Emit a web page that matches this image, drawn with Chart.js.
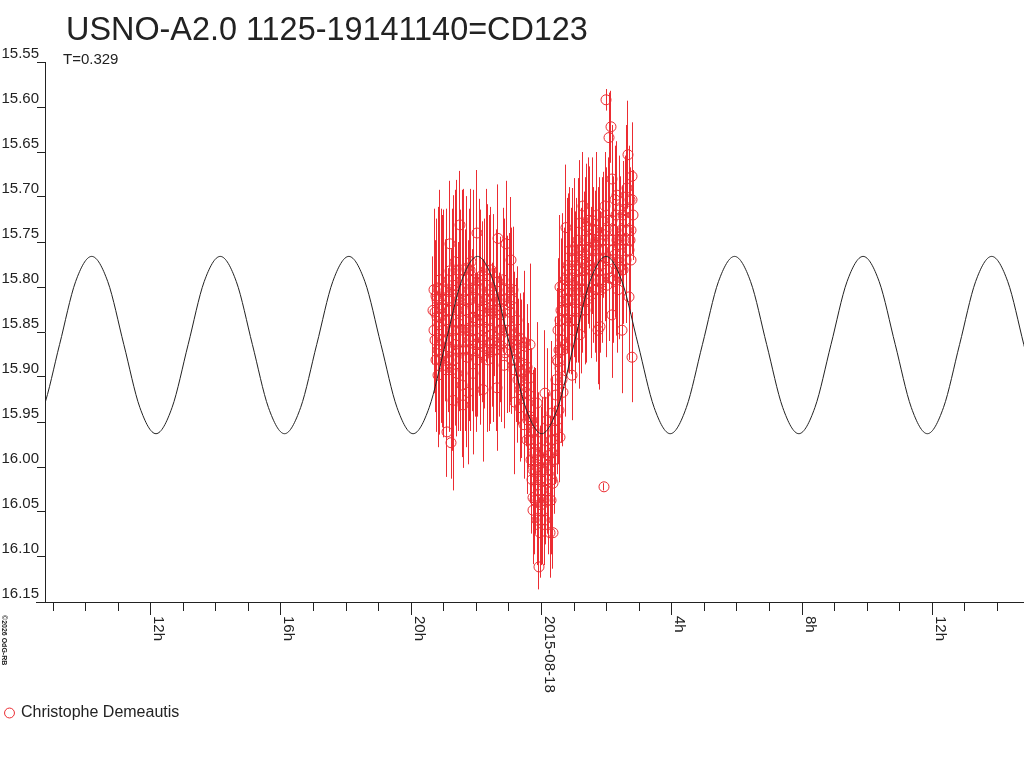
<!DOCTYPE html>
<html>
<head>
<meta charset="utf-8">
<title>USNO-A2.0 1125-19141140=CD123</title>
<script src="https://cdn.jsdelivr.net/npm/chart.js@4.4.1/dist/chart.umd.min.js"></script>
<style>
  html, body { margin: 0; padding: 0; background: #fff; }
  #wrap { width: 1024px; height: 768px; }
</style>
</head>
<body>
<div id="wrap"><canvas id="lightCurve" width="1024" height="768"></canvas></div>
<script>
var xMin = -15.246, xMax = 14.816;
var magTop = 15.55, magBottom = 16.15;

var titleText = 'USNO-A2.0 1125-19141140=CD123';
var periodText = 'T=0.329';
var observer = 'Christophe Demeautis';

var hourTicks = [-12, -8, -4, 0, 4, 8, 12];
var hourLabels = ['12h', '16h', '20h', '2015-08-18', '4h', '8h', '12h'];

// fitted curve (black)
var curveTime = [-15.786, -15.293, -14.799, -14.306, -13.812, -13.319, -12.825, -12.332,
  -11.838, -11.345, -10.851, -10.358, -9.864, -9.371, -8.877, -8.384,
  -7.890, -7.397, -6.903, -6.410, -5.916, -5.423, -4.929, -4.436,
  -3.942, -3.449, -2.955, -2.462, -1.968, -1.475, -0.981, -0.488,
  0.006, 0.499, 0.993, 1.486, 1.980, 2.473, 2.967, 3.460,
  3.954, 4.447, 4.941, 5.434, 5.928, 6.421, 6.915, 7.408,
  7.902, 8.395, 8.889, 9.382, 9.876, 10.369, 10.863, 11.356,
  11.850, 12.343, 12.837, 13.330, 13.824, 14.317, 14.811, 15.304, 15.798];
var curveMag = [15.963, 15.934, 15.864, 15.794, 15.766, 15.794, 15.864, 15.934,
  15.963, 15.934, 15.864, 15.794, 15.766, 15.794, 15.864, 15.934,
  15.963, 15.934, 15.864, 15.794, 15.766, 15.794, 15.864, 15.934,
  15.963, 15.934, 15.864, 15.794, 15.766, 15.794, 15.864, 15.934,
  15.963, 15.934, 15.864, 15.794, 15.766, 15.794, 15.864, 15.934,
  15.963, 15.934, 15.864, 15.794, 15.766, 15.794, 15.864, 15.934,
  15.963, 15.934, 15.864, 15.794, 15.766, 15.794, 15.864, 15.934,
  15.963, 15.934, 15.864, 15.794, 15.766, 15.794, 15.864, 15.934, 15.963];

// observations (red)
var obsTime = [-3.332, -3.270, -3.209, -3.178, -3.178, -3.147, -3.117, -3.086, -3.025, -2.902,
  -2.810, -2.810, -2.810, -2.779, -2.748, -2.717, -2.656, -2.595, -2.564, -2.533,
  -2.503, -2.441, -2.410, -2.349, -2.288, -2.288, -2.257, -2.195, -2.134, -2.103,
  -2.103, -2.103, -2.042, -1.981, -1.919, -1.888, -1.827, -1.796, -1.735, -1.704,
  -1.643, -1.581, -1.551, -1.489, -1.428, -1.397, -1.366, -1.336, -1.336, -1.274,
  -1.213, -1.151, -1.121, -1.090, -1.029, -0.967, -0.937, -0.906, -0.844, -0.814,
  -0.752, -0.722, -0.660, -0.660, -0.599, -0.537, -0.507, -0.445, -0.445, -0.384,
  -0.353, -0.353, -0.353, -0.322, -0.292, -0.292, -0.261, -0.261, -0.261, -0.261,
  -0.200, -0.200, -0.169, -0.138, -0.138, -0.138, -0.107, -0.077, -0.046, -0.015,
  0.015, 0.046, 0.077, 0.107, 0.138, 0.169, 0.200, 0.261, 0.292, 0.322,
  0.322, 0.353, 0.353, 0.415, 0.445, 0.507, 0.537, 0.568, 0.568, 0.568,
  0.629, 0.660, 0.660, 0.691, 0.722, 0.752, 0.783, 0.814, 0.875, 0.906,
  0.937, 0.967, 0.998, 1.059, 1.090, 1.121, 1.182, 1.182, 1.213, 1.274,
  1.305, 1.336, 1.397, 1.428, 1.489, 1.520, 1.551, 1.612, 1.643, 1.704,
  1.704, 1.735, 1.796, 1.827, 1.858, 1.919, 1.950, 1.950, 1.981, 2.011,
  2.073, 2.103, 2.134, 2.165, 2.165, 2.226, 2.257, 2.318, 2.318, 2.380,
  2.410, 2.472, 2.503, 2.533, 2.564, 2.625, 2.656, 2.687, 2.717, 2.748,
  2.779, 2.779, 2.810,
  -3.301, -3.239, -3.178, -3.117, -3.055, -2.994, -2.932, -2.871, -2.840, -2.687,
  -2.625, -2.472, -2.380, -2.318, -2.226, -2.165, -2.073, -2.011, -1.950, -1.858,
  -1.766, -1.673, -1.612, -1.520, -1.459, -1.305, -1.244, -1.182, -1.059, -0.998,
  -0.875, -0.783, -0.691, -0.629, -0.568, -0.476, -0.415,
  -0.230, -0.169, -0.077, -0.015, 0.077, 0.169, 0.230, 0.292, 0.384,
  0.476, 0.537, 0.599, 0.629, 0.752, 0.844, 0.937, 1.029, 1.090, 1.151,
  1.244, 1.366, 1.459, 1.581, 1.673, 1.766, 1.888, 2.042, 2.195, 2.288,
  2.349, 2.441, 2.595, 2.717,
  -3.270, -3.209, -3.147, -3.086, -3.025, -2.963, -2.902, -2.840, -2.779, -2.717,
  -2.656, -2.595, -2.503, -2.441, -2.349, -2.257, -2.195, -2.103, -2.011, -1.919,
  -1.827, -1.735, -1.643, -1.581, -1.489, -1.397, -1.274, -1.151, -1.029, -0.937,
  -0.844, -0.752, -0.599, -0.507,
  -0.353, -0.261, -0.107, 0.015, 0.138, 0.261, 0.353,
  0.445, 0.507, 0.599, 0.691, 0.783, 0.875, 0.967, 1.059, 1.151, 1.213,
  1.305, 1.397, 1.489, 1.551, 1.643, 1.735, 1.827, 1.919, 2.011, 2.103,
  2.226, 2.318, 2.410, 2.503, 2.625, 2.748,
  -3.301, -3.239, -3.117, -3.055, -2.994, -2.932, -2.810, -2.748, -2.687, -2.625,
  -2.564, -2.472, -2.410, -2.318, -2.226, -2.165, -2.073, -1.981, -1.888, -1.796,
  -1.704, -1.612, -1.551, -1.459, -1.366, -1.213, -1.121, -0.998, -0.906, -0.814,
  -0.722, -0.660,
  -0.322, -0.200, -0.138, -0.046, 0.046, 0.107, 0.200, 0.322,
  0.476, 0.568, 0.660, 0.722, 0.814, 0.906, 0.998, 1.121, 1.182, 1.274,
  1.336, 1.428, 1.520, 1.612, 1.704, 1.796, 1.888, 1.981, 2.073, 2.165,
  2.257, 2.380, 2.472, 2.564, 2.687, 2.779];
var obsMag = [15.826, 15.828, 15.833, 15.801, 15.898, 15.814, 15.864, 15.881, 15.848, 15.961,
  15.752, 15.782, 15.867, 15.973, 15.892, 15.926, 15.772, 15.896, 15.840, 15.814,
  15.731, 15.909, 15.931, 15.870, 15.779, 15.878, 15.917, 15.814, 15.848, 15.801,
  15.823, 15.896, 15.864, 15.740, 15.831, 15.873, 15.787, 15.914, 15.845, 15.814,
  15.881, 15.862, 15.781, 15.826, 15.839, 15.870, 15.912, 15.746, 15.794, 15.814,
  15.848, 15.887, 15.873, 15.752, 15.803, 15.828, 15.770, 15.881, 15.853, 15.928,
  15.837, 15.903, 15.857, 15.934, 15.920, 15.953, 15.862, 15.889, 15.970, 15.920,
  15.864, 15.901, 15.944, 15.992, 15.948, 16.014, 15.962, 15.984, 16.034, 16.048,
  15.984, 16.037, 15.970, 15.929, 15.992, 16.000, 16.020, 16.111, 16.073, 16.042,
  16.003, 16.048, 15.981, 15.918, 16.026, 15.948, 15.998, 16.073, 15.970, 15.940,
  15.984, 16.018, 16.073, 15.959, 15.920, 15.883, 15.937, 15.800, 15.890, 15.967,
  15.859, 15.798, 15.917, 15.826, 15.864, 15.734, 15.814, 15.776, 15.759, 15.837,
  15.898, 15.848, 15.798, 15.776, 15.814, 15.748, 15.729, 15.853, 15.792, 15.710,
  15.764, 15.826, 15.733, 15.781, 15.746, 15.809, 15.770, 15.792, 15.753, 15.720,
  15.803, 15.848, 15.844, 15.776, 15.748, 16.022, 15.710, 15.768, 15.592, 15.798,
  15.634, 15.790, 15.622, 15.680, 15.831, 15.737, 15.764, 15.698, 15.784, 15.753,
  15.778, 15.848, 15.720, 15.748, 15.714, 15.690, 15.653, 15.811, 15.703, 15.737,
  15.677, 15.878, 15.720,
  15.848, 15.810, 15.870, 15.834, 15.820, 15.887, 15.803, 15.859, 15.826, 15.848,
  15.809, 15.870, 15.837, 15.814, 15.859, 15.772, 15.834, 15.803, 15.864, 15.826,
  15.876, 15.798, 15.820, 15.853, 15.809, 15.864, 15.831, 15.792, 15.848, 15.820,
  15.803, 15.870, 15.883, 15.894, 15.876, 15.917, 15.948,
  15.959, 16.014, 15.987, 16.059, 16.037, 16.014, 15.987, 16.037, 15.992,
  15.948, 15.870, 15.826, 15.903, 15.837, 15.803, 15.814, 15.837, 15.781, 15.814,
  15.759, 15.803, 15.759, 15.737, 15.781, 15.748, 15.792, 15.726, 15.759, 15.720,
  15.803, 15.737, 15.770, 15.748,
  15.859, 15.814, 15.842, 15.803, 15.876, 15.837, 15.814, 15.881, 15.848, 15.798,
  15.864, 15.826, 15.848, 15.792, 15.826, 15.848, 15.781, 15.859, 15.837, 15.792,
  15.848, 15.814, 15.837, 15.803, 15.870, 15.826, 15.848, 15.814, 15.870, 15.848,
  15.892, 15.864, 15.903, 15.892,
  15.970, 16.003, 16.037, 16.026, 15.992, 16.003, 15.970,
  15.903, 15.848, 15.870, 15.814, 15.781, 15.826, 15.770, 15.803, 15.759, 15.826,
  15.781, 15.814, 15.776, 15.726, 15.803, 15.759, 15.803, 15.742, 15.781, 15.748,
  15.792, 15.748, 15.714, 15.781, 15.737, 15.770,
  15.803, 15.881, 15.792, 15.859, 15.814, 15.892, 15.826, 15.803, 15.881, 15.781,
  15.870, 15.814, 15.781, 15.848, 15.803, 15.870, 15.792, 15.881, 15.814, 15.859,
  15.781, 15.870, 15.826, 15.859, 15.814, 15.870, 15.826, 15.859, 15.814, 15.881,
  15.859, 15.914,
  15.948, 16.003, 16.059, 16.014, 15.992, 16.059, 16.037, 16.014,
  15.881, 15.837, 15.870, 15.792, 15.814, 15.792, 15.759, 15.792, 15.770, 15.803,
  15.748, 15.726, 15.781, 15.759, 15.737, 15.792, 15.759, 15.737, 15.770, 15.726,
  15.703, 15.770, 15.748, 15.726, 15.759, 15.703];
var obsErr = [0.060, 0.080, 0.070, 0.090, 0.080, 0.060, 0.100, 0.070, 0.080, 0.050,
  0.070, 0.090, 0.080, 0.040, 0.090, 0.100, 0.080, 0.070, 0.090, 0.100,
  0.060, 0.080, 0.070, 0.090, 0.080, 0.100, 0.080, 0.070, 0.090, 0.080,
  0.100, 0.090, 0.080, 0.070, 0.090, 0.080, 0.060, 0.080, 0.090, 0.070,
  0.080, 0.090, 0.070, 0.080, 0.060, 0.090, 0.070, 0.060, 0.080, 0.070,
  0.060, 0.070, 0.080, 0.070, 0.060, 0.080, 0.070, 0.060, 0.070, 0.080,
  0.060, 0.070, 0.050, 0.060, 0.070, 0.060, 0.080, 0.070, 0.060, 0.080,
  0.090, 0.070, 0.060, 0.070, 0.080, 0.060, 0.070, 0.080, 0.050, 0.060,
  0.070, 0.060, 0.080, 0.090, 0.070, 0.060, 0.070, 0.025, 0.050, 0.060,
  0.070, 0.060, 0.080, 0.070, 0.060, 0.080, 0.070, 0.050, 0.070, 0.080,
  0.060, 0.050, 0.040, 0.060, 0.070, 0.080, 0.060, 0.080, 0.070, 0.050,
  0.070, 0.080, 0.060, 0.070, 0.080, 0.070, 0.060, 0.080, 0.070, 0.060,
  0.050, 0.070, 0.080, 0.060, 0.070, 0.060, 0.070, 0.060, 0.080, 0.060,
  0.070, 0.060, 0.070, 0.060, 0.080, 0.070, 0.060, 0.070, 0.060, 0.070,
  0.080, 0.060, 0.070, 0.060, 0.070, 0.004, 0.060, 0.070, 0.012, 0.080,
  0.050, 0.070, 0.040, 0.060, 0.070, 0.060, 0.070, 0.060, 0.070, 0.060,
  0.080, 0.070, 0.060, 0.070, 0.060, 0.070, 0.060, 0.070, 0.060, 0.070,
  0.060, 0.050, 0.050,
  0.070, 0.080, 0.090, 0.070, 0.100, 0.080, 0.090, 0.080, 0.100, 0.090,
  0.080, 0.090, 0.100, 0.080, 0.090, 0.080, 0.100, 0.090, 0.080, 0.090,
  0.080, 0.090, 0.100, 0.080, 0.090, 0.080, 0.070, 0.080, 0.070, 0.080,
  0.070, 0.080, 0.070, 0.080, 0.070, 0.060, 0.070,
  0.070, 0.060, 0.070, 0.050, 0.060, 0.060, 0.070, 0.060, 0.060,
  0.060, 0.080, 0.080, 0.070, 0.070, 0.080, 0.070, 0.070, 0.080, 0.070,
  0.070, 0.070, 0.080, 0.070, 0.070, 0.070, 0.070, 0.070, 0.070, 0.060,
  0.070, 0.060, 0.070, 0.060,
  0.080, 0.090, 0.080, 0.090, 0.080, 0.090, 0.100, 0.080, 0.090, 0.100,
  0.090, 0.100, 0.090, 0.100, 0.090, 0.100, 0.090, 0.080, 0.100, 0.090,
  0.080, 0.090, 0.100, 0.090, 0.080, 0.090, 0.080, 0.090, 0.070, 0.080,
  0.070, 0.080, 0.070, 0.080,
  0.070, 0.060, 0.060, 0.060, 0.070, 0.060, 0.070,
  0.070, 0.080, 0.070, 0.080, 0.080, 0.070, 0.080, 0.070, 0.080, 0.070,
  0.070, 0.070, 0.070, 0.070, 0.070, 0.070, 0.070, 0.070, 0.070, 0.070,
  0.070, 0.060, 0.060, 0.060, 0.060, 0.060,
  0.090, 0.080, 0.100, 0.090, 0.100, 0.080, 0.100, 0.090, 0.090, 0.100,
  0.090, 0.100, 0.090, 0.100, 0.090, 0.090, 0.100, 0.080, 0.100, 0.090,
  0.090, 0.090, 0.090, 0.080, 0.090, 0.080, 0.080, 0.080, 0.080, 0.070,
  0.080, 0.070,
  0.070, 0.060, 0.050, 0.060, 0.070, 0.050, 0.060, 0.060,
  0.080, 0.080, 0.070, 0.080, 0.080, 0.080, 0.080, 0.070, 0.080, 0.070,
  0.070, 0.070, 0.070, 0.070, 0.070, 0.070, 0.070, 0.070, 0.070, 0.060,
  0.060, 0.060, 0.060, 0.060, 0.060, 0.060];

var red = 'rgb(236,44,50)';
var ink = '#222';
var fontFamily = '"Liberation Sans", Arial, sans-serif';

drawLightCurve();

// same pixel snapping Chart.js uses for 1px grid lines
function crisp(px) {
	return Math.round(px + 0.5) - 0.5;
}

function drawLightCurve() {
	var points = obsTime.map(function(t, i) { return {x: t, y: obsMag[i]}; });
	var curve = curveTime.map(function(t, i) { return {x: t, y: curveMag[i]}; });

	// vertical error bars, placed with the chart's own scales
	var errorBars = {
		id: 'errorBars',
		beforeDatasetsDraw: function(chart) {
			var ctx = chart.ctx,
			    xs = chart.scales.x,
			    ys = chart.scales.y,
			    area = chart.chartArea;
			ctx.save();
			ctx.beginPath();
			ctx.rect(area.left, area.top, area.right - area.left, area.bottom - area.top);
			ctx.clip();
			ctx.strokeStyle = red;
			ctx.lineWidth = 1;
			ctx.beginPath();
			for (var i = 0; i < obsTime.length; i++) {
				var px = crisp(xs.getPixelForValue(obsTime[i]));
				ctx.moveTo(px, ys.getPixelForValue(obsMag[i] - obsErr[i]));
				ctx.lineTo(px, ys.getPixelForValue(obsMag[i] + obsErr[i]));
			}
			ctx.stroke();
			ctx.restore();
		}
	};

	// title, period, rotated hour labels, longer 4h ticks
	var decor = {
		id: 'decor',
		beforeDraw: function(chart) {
			var ctx = chart.ctx;
			ctx.save();
			ctx.fillStyle = '#fff';
			ctx.fillRect(0, 0, chart.width, chart.height);
			ctx.restore();
		},
		afterDraw: function(chart) {
			var ctx = chart.ctx,
			    xs = chart.scales.x,
			    area = chart.chartArea;
			ctx.save();
			ctx.fillStyle = ink;
			ctx.textAlign = 'left';
			ctx.textBaseline = 'alphabetic';
			ctx.font = '32.4px ' + fontFamily;
			ctx.fillText(titleText, 66, 40);
			ctx.font = '15px ' + fontFamily;
			ctx.fillText(periodText, 63, 64);

			ctx.strokeStyle = ink;
			ctx.lineWidth = 1;
			ctx.beginPath();
			ctx.moveTo(area.left - 9, crisp(area.bottom));
			ctx.lineTo(area.left, crisp(area.bottom));
			ctx.stroke();

			for (var i = 0; i < hourTicks.length; i++) {
				var px = crisp(xs.getPixelForValue(hourTicks[i]));
				ctx.beginPath();
				ctx.moveTo(px, area.bottom);
				ctx.lineTo(px, area.bottom + 13);
				ctx.stroke();
				ctx.save();
				ctx.translate(px + 0.5, area.bottom + 14);
				ctx.rotate(Math.PI / 2);
				ctx.font = '15px ' + fontFamily;
				ctx.textBaseline = 'bottom';
				ctx.fillText(hourLabels[i], 0, 0);
				ctx.restore();
			}

			ctx.save();
			ctx.translate(0, area.bottom + 13);
			ctx.rotate(Math.PI / 2);
			ctx.font = 'bold 7px ' + fontFamily;
			ctx.textBaseline = 'bottom';
			ctx.fillText('\u00a92026 OdG-RB', 0, 0);
			ctx.restore();
			ctx.restore();
		}
	};

	var ctx = document.getElementById('lightCurve');
	new Chart(ctx, {
		type: 'scatter',
		data: {
			datasets: [{
				type: 'line',
				label: 'fit',
				data: curve,
				borderColor: ink,
				borderWidth: 1,
				pointRadius: 0,
				fill: false,
				cubicInterpolationMode: 'monotone',
				order: 0
			}, {
				type: 'scatter',
				label: observer,
				data: points,
				pointStyle: 'circle',
				pointRadius: 5,
				borderWidth: 1,
				borderColor: red,
				backgroundColor: 'rgba(0,0,0,0)',
				order: 1
			}]
		},
		plugins: [errorBars, decor],
		options: {
			responsive: false,
			animation: false,
			events: [],
			layout: { autoPadding: false, padding: { top: 62, left: 0, right: 0, bottom: 37 } },
			scales: {
				x: {
					type: 'linear',
					min: xMin,
					max: xMax,
					offset: false,
					ticks: { stepSize: 1, includeBounds: false, display: false },
					grid: { offset: false, drawOnChartArea: false, drawTicks: true, tickLength: 9, tickColor: ink },
					border: { display: true, color: ink, width: 1 },
					afterFit: function(s) { s.height = 97; }
				},
				y: {
					type: 'linear',
					reverse: true,
					min: magTop,
					max: magBottom,
					ticks: {
						stepSize: 0.05,
						padding: -2,
						labelOffset: -8,
						color: ink,
						font: { family: fontFamily, size: 15 },
						callback: function(v) { return v.toFixed(2); }
					},
					grid: { drawOnChartArea: false, drawTicks: true, tickLength: 8, tickColor: ink },
					border: { display: true, color: ink, width: 1 },
					afterFit: function(s) { s.width = 45; }
				}
			},
			plugins: {
				title: { display: false },
				tooltip: { enabled: false },
				legend: {
					display: true,
					position: 'bottom',
					align: 'start',
					labels: {
						usePointStyle: true,
						boxWidth: 7,
						boxHeight: 7,
						padding: 6,
						color: ink,
						font: { family: fontFamily, size: 16 },
						filter: function(item) { return item.datasetIndex === 1; }
					}
				}
			}
		}
	});
}
</script>
</body>
</html>
